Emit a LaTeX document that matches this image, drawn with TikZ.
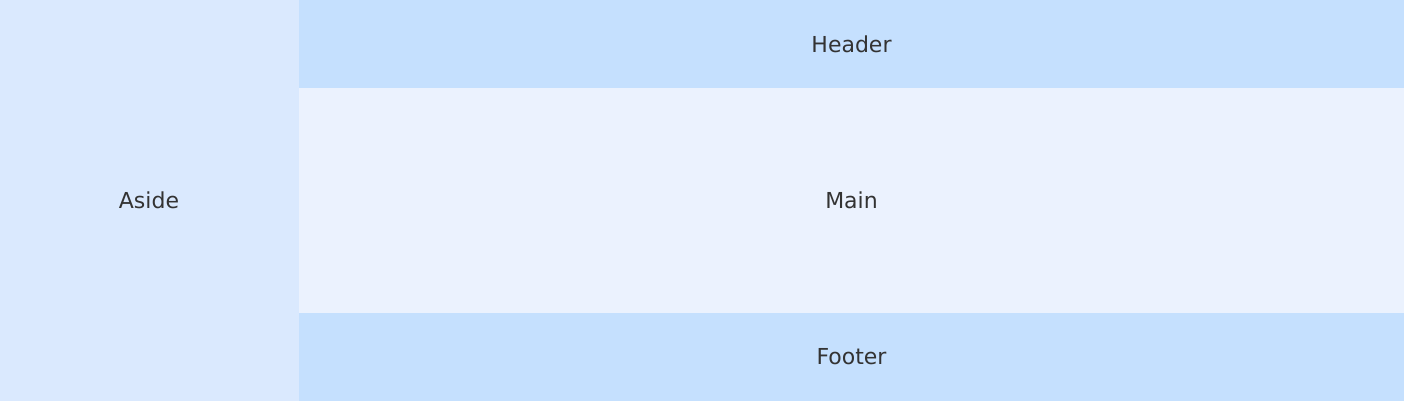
\documentclass[tikz,border=0pt]{standalone}
\usepackage{fontspec}
\setmainfont{DejaVu Sans}
\definecolor{asidec}{HTML}{DAE9FE}
\definecolor{headc}{HTML}{C5E0FE}
\definecolor{mainc}{HTML}{EBF2FE}
\definecolor{txt}{HTML}{333333}
\tikzset{
  region/.style={draw=none, inner sep=0pt, outer sep=0pt},
  lbl/.style={text=txt, font=\fontsize{22}{26}\selectfont}
}
\begin{document}
\begin{tikzpicture}[x=1pt,y=-1pt]
\useasboundingbox[fill=white] (0,0) rectangle (1408,401);
\fill[asidec] (0,0) rectangle (299,401);
\fill[headc] (299,0) rectangle (1404,88);
\fill[mainc] (299,88) rectangle (1404,313);
\fill[headc] (299,313) rectangle (1404,401);
\node[lbl] (aside) at (149,200.5) {Aside};
\node[lbl] (header) at (851.5,44) {Header};
\node[lbl] (main) at (851.5,200.5) {Main};
\node[lbl] (footer) at (851.5,357) {Footer};
\end{tikzpicture}
\end{document}
